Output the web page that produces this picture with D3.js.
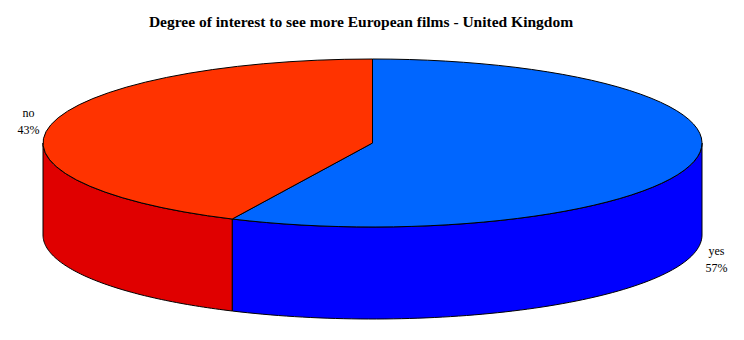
<!DOCTYPE html>
<html lang="en">
<head>
    <meta charset="UTF-8">
    <title>Degree of interest to see more European films - United Kingdom</title>
    <script src="https://d3js.org/d3.v7.min.js"></script>
    <style>
        body { margin: 0; background: #fff; }
        svg { display: block; }
        .title { font: bold 15.5px "Liberation Serif", "Times New Roman", serif; }
        .label { font: 12px "Liberation Serif", "Times New Roman", serif; }
    </style>
</head>
<body>
    <svg width="744" height="340"></svg>
    <script>
        const categories = ["yes", "no"];
        const values = [57, 43];
        const pctLabels = ["57%", "43%"];
        const topColors = ["#0066FF", "#FF3300"];
        const sideColors = ["#0000FF", "#E00000"];

        const width = 744, height = 340;
        const cx = 372.5, cy = 143, rx = 329.5, ry = 84, depth = 92;

        const svg = d3.select("svg");

        svg.append("text")
            .attr("class", "title")
            .attr("x", 361)
            .attr("y", 27)
            .attr("text-anchor", "middle")
            .text("Degree of interest to see more European films - United Kingdom");

        const pie = d3.pie().sort(null).startAngle(0).endAngle(2 * Math.PI);
        const arcs = pie(values);

        // point on the tilted ellipse for a d3 pie angle (0 = 12 o'clock, clockwise)
        const px = a => cx + rx * Math.sin(a);
        const py = a => cy - ry * Math.cos(a);
        const line = d3.line();

        // side walls: only the front half (pi/2 .. 3pi/2) is visible
        const sides = svg.append("g");
        arcs.forEach((d, i) => {
            const a0 = Math.max(d.startAngle, Math.PI / 2);
            const a1 = Math.min(d.endAngle, 3 * Math.PI / 2);
            if (a1 <= a0) return;
            const n = 80;
            const pts = d3.range(n + 1).map(k => a0 + (a1 - a0) * k / n);
            const upper = pts.map(a => [px(a), py(a)]);
            const lower = pts.slice().reverse().map(a => [px(a), py(a) + depth]);
            sides.append("path")
                .attr("d", line(upper.concat(lower)) + "Z")
                .attr("fill", sideColors[i])
                .attr("stroke", "#000")
                .attr("stroke-width", 1)
                .attr("stroke-linejoin", "round");
        });

        // top face
        const arc = d3.arc().innerRadius(0).outerRadius(rx);
        svg.append("g")
            .attr("transform", `translate(${cx},${cy}) scale(1,${ry / rx})`)
            .selectAll("path")
            .data(arcs)
            .join("path")
            .attr("d", arc)
            .attr("fill", (d, i) => topColors[i])
            .attr("stroke", "#000")
            .attr("stroke-width", 1)
            .attr("vector-effect", "non-scaling-stroke");

        // labels
        const labels = svg.append("g").attr("class", "label");
        arcs.forEach((d, i) => {
            const mid = (d.startAngle + d.endAngle) / 2;
            const front = Math.cos(mid) < 0;
            const x = cx + (rx + 23) * Math.sin(mid);
            const y = py(mid) + (front ? depth + 2 : -8);
            const t = labels.append("text")
                .attr("x", x)
                .attr("y", y)
                .attr("text-anchor", "middle");
            t.append("tspan").attr("x", x).attr("dy", 0).text(categories[i]);
            t.append("tspan").attr("x", x).attr("dy", 17).text(pctLabels[i]);
        });
    </script>
</body>
</html>
